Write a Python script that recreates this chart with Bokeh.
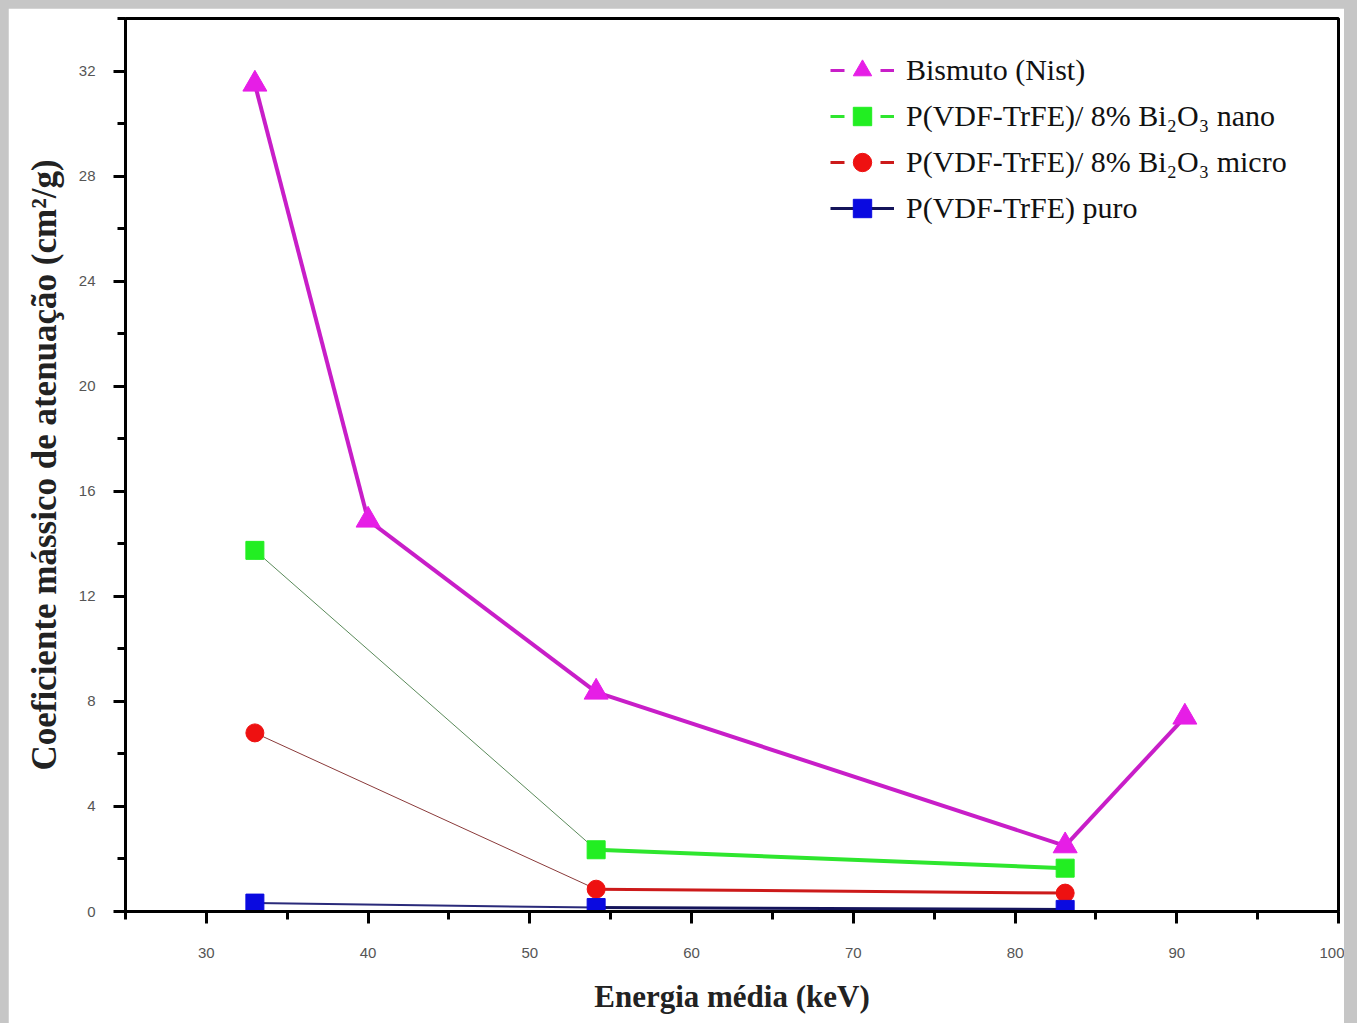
from bokeh.plotting import figure
from bokeh.models import (Range1d, FixedTicker, Legend, LegendItem, ColumnDataSource)
from bokeh.embed import file_html
from bokeh.resources import INLINE

# Mean energy (keV) and mass attenuation coefficient (cm^2/g)
bi_energy = [33.0, 40.0, 54.1, 83.1, 90.5]
bi_mu = [31.5, 14.9, 8.35, 2.5, 7.4]

sample_energy = [33.0, 54.1, 83.1]
nano_mu = [13.75, 2.35, 1.65]
micro_mu = [6.8, 0.85, 0.7]
puro_mu = [0.32, 0.15, 0.08]

x_ticks = [30, 40, 50, 60, 70, 80, 90, 100]
y_ticks = [0, 4, 8, 12, 16, 20, 24, 28, 32]

series = [
    # label, x, y, line colour, marker colour, marker, size, segment widths, legend dash
    ("Bismuto (Nist)", bi_energy, bi_mu, "#c81ec8", "#e61ee6", "triangle", 24, [4, 4, 4, 4], "14 36"),
    ("P(VDF-TrFE)/ 8% Bi\u2082O\u2083 nano", sample_energy, nano_mu, ["#5a8a5a", "#2ee62e"], "#22ee22", "square", 18, [1, 4], "14 36"),
    ("P(VDF-TrFE)/ 8% Bi\u2082O\u2083 micro", sample_energy, micro_mu, ["#8a3a3a", "#cc1a1a"], "#ee1111", "circle", 18, [1, 3], "14 36"),
    ("P(VDF-TrFE) puro", sample_energy, puro_mu, ["#2a2a7a", "#14145a"], "#0a0ae0", "square", 18, [2, 3], "solid"),
]

p = figure(width=1336, height=1015, output_backend="svg", toolbar_location=None,
           x_range=Range1d(25, 100), y_range=Range1d(0, 34),
           min_border_left=117, min_border_right=6, min_border_top=10, min_border_bottom=112,
           background_fill_color="white", border_fill_color="white")
p.margin = (8, 13, 0, 8)
p.grid.visible = False
p.outline_line_color = "black"
p.outline_line_width = 3

nan = float("nan")
legend_items = []
for label, xs, ys, lcol, mcol, marker, size, widths, dash in series:
    cols = lcol if isinstance(lcol, list) else [lcol] * (len(xs) - 1)
    src = ColumnDataSource(dict(x0=xs[:-1], y0=ys[:-1], x1=xs[1:], y1=ys[1:],
                                c=cols, w=widths[:len(xs) - 1]))
    p.segment("x0", "y0", "x1", "y1", source=src, line_color="c", line_width="w")
    p.scatter(xs, ys, marker=marker, size=size, fill_color=mcol, line_color=mcol)
    # legend swatches: short dashes either side of the marker
    lc = cols[-1]
    lg = p.line([nan, nan], [nan, nan], line_color=lc, line_width=3, line_dash=dash)
    mk = p.scatter([nan], [nan], marker=marker, size=size, fill_color=mcol, line_color=mcol)
    legend_items.append(LegendItem(label=label, renderers=[lg, mk]))

legend = Legend(items=legend_items, location=(705, 680))
legend.label_text_font = "Liberation Serif"
legend.label_text_font_size = "30px"
legend.label_text_color = "#111111"
legend.glyph_width = 64
legend.glyph_height = 46
legend.spacing = 0
legend.label_standoff = 12
legend.border_line_color = None
legend.background_fill_alpha = 0
legend.margin = 0
legend.padding = 0
p.add_layout(legend, "center")

for ax in (p.xaxis[0], p.yaxis[0]):
    ax.axis_line_width = 3
    ax.axis_line_color = "black"
    ax.major_tick_line_width = 3
    ax.minor_tick_line_width = 3
    ax.major_tick_out = 12
    ax.major_tick_in = 0
    ax.minor_tick_out = 8
    ax.minor_tick_in = 0
    ax.major_label_text_font = "Liberation Sans"
    ax.major_label_text_font_size = "15px"
    ax.major_label_text_color = "#555555"
    ax.axis_label_text_font = "Liberation Serif"
    ax.axis_label_text_font_style = "bold"
    ax.axis_label_text_color = "#222222"

p.xaxis[0].axis_label_text_font_size = "31px"
p.yaxis[0].axis_label_text_font_size = "35px"
p.xaxis[0].ticker = FixedTicker(ticks=x_ticks, minor_ticks=[25, 35, 45, 55, 65, 75, 85, 95])
p.yaxis[0].ticker = FixedTicker(ticks=y_ticks, minor_ticks=[2, 6, 10, 14, 18, 22, 26, 30, 34])
p.xaxis[0].major_label_standoff = 24
p.yaxis[0].major_label_standoff = 18
p.xaxis[0].axis_label = "Energia média (keV)"
p.yaxis[0].axis_label = "Coeficiente mássico de atenuação (cm²/g)"
p.xaxis[0].axis_label_standoff = 18
p.yaxis[0].axis_label_standoff = 12

html = file_html(p, INLINE)
html = html.replace("</head>",
                    "<style>html, body { margin: 0 !important; background: #c6c6c6 !important; }</style></head>", 1)
open("out.html", "w").write(html)
